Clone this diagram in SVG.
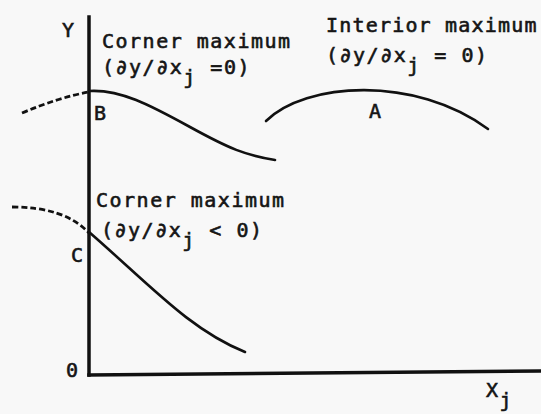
<svg xmlns="http://www.w3.org/2000/svg" width="541" height="414" viewBox="0 0 541 414">
<style>
text{font-family:"DejaVu Sans Mono","Liberation Mono",monospace;font-size:20px;letter-spacing:1.5px;fill:#151515;stroke:#151515;stroke-width:0.6}
.ax{stroke:#111;stroke-width:3.5;fill:none;stroke-linecap:square}
.cv{stroke:#111;stroke-width:2.6;fill:none;stroke-linecap:round}
.ds{stroke:#111;stroke-width:2.8;fill:none;stroke-dasharray:6 3}
</style>
<rect width="541" height="414" fill="#f8f8f8"/>
<g id="axes">
<path class="ax" d="M89,17 V375"/>
<path class="ax" d="M89,375 L541,371"/>
<text x="62" y="37">Y</text>
<text x="66" y="377">0</text>
<text x="486" y="397">X<tspan dy="10">j</tspan></text>
</g>
<g id="connectors">
<path class="ds" d="M22,113 Q60,97 89,92"/>
<path class="cv" d="M89,91 C120,89 150,105 190,127 S245,155 275,160"/>
<path class="cv" d="M266,121 C305,82 415,75 488,129"/>
<path class="ds" d="M12,207 Q65,207 89,233"/>
<path class="cv" d="M89,232 C150,285 190,330 245,352"/>
</g>
<g id="B">
<text x="94" y="120">B</text>
<text x="102" y="48">Corner maximum</text>
<text x="102" y="74">(∂y/∂x<tspan dy="10">j</tspan><tspan dy="-10"> =0)</tspan></text>
</g>
<g id="A">
<text x="369" y="118">A</text>
<text x="326" y="32" textLength="212" lengthAdjust="spacing">Interior maximum</text>
<text x="326" y="62">(∂y/∂x<tspan dy="10">j</tspan><tspan dy="-10"> = 0)</tspan></text>
</g>
<g id="C">
<text x="71" y="262">C</text>
<text x="96" y="207">Corner maximum</text>
<text x="101" y="237">(∂y/∂x<tspan dy="10">j</tspan><tspan dy="-10"> &lt; 0)</tspan></text>
</g>
</svg>
